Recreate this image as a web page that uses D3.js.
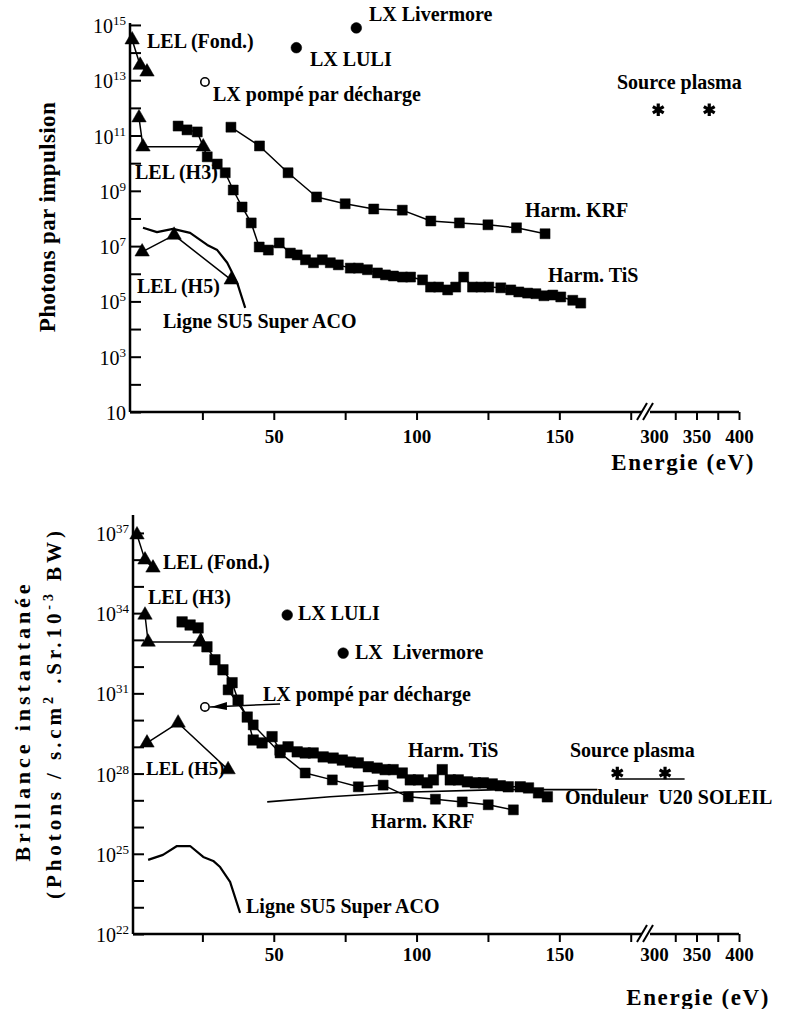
<!DOCTYPE html>
<html lang="fr">
<head>
<meta charset="UTF-8">
<title>Photons par impulsion / Brillance instantanée</title>
<script src="https://cdn.jsdelivr.net/npm/d3@7"></script>
<style>
  body { margin: 0; background: #fff; }
  svg { display: block; }
  text { white-space: pre; }
</style>
</head>
<body>
<svg id="chart" width="788" height="1009"></svg>
<script>
// ---- x axis (eV), with a break between 180 and 300 eV
var xTicks = [25, 50, 75, 100, 125, 150, 175, 300, 325, 350, 375, 400];
var xTickLabels = [50, 100, 150, 300, 350, 400];

// ---- top panel : photons par impulsion
var topLelFondE = [0.4, 3.2, 5.6];
var topLelFondV = [2.9e14, 3.5e13, 2.0e13];
var topLelH3E = [2.8, 4.2, 25.3];
var topLelH3V = [4.4e11, 3.9e10, 3.9e10];
var topLelH5E = [3.9, 15.1, 35.1];
var topLelH5V = [6.2e6, 2.5e7, 6.0e5];
var topSu5E = [4.2, 9.1, 14.7, 20.7, 26.7, 30.2, 33.7, 37.2, 40.0];
var topSu5V = [4.6e7, 3.2e7, 4.2e7, 3.0e7, 1.1e7, 7.2e6, 2.5e6, 4.7e5, 5.8e4];
var topKrfE = [35, 45, 55, 65, 75, 85, 95, 105, 115, 125, 135, 145];
var topKrfV = [2.0e11, 4.2e10, 4.5e9, 6.0e8, 3.4e8, 2.2e8, 2.0e8, 8.1e7, 6.9e7, 5.9e7, 4.6e7, 2.8e7];
var topTisE = [16.5, 19.6, 23.2, 26.7, 30.2, 33.0, 35.8, 38.9, 42.1, 44.9, 48.1, 51.9, 55.8, 58.2,
  61.1, 63.9, 67.0, 69.8, 72.6, 76.8, 79.6, 82.8, 86.3, 89.1, 91.9, 95.1, 97.9, 102.1, 104.9,
  107.7, 110.9, 113.7, 116.5, 119.6, 122.5, 125.3, 129.5, 133.0, 135.8, 138.9, 141.8, 144.6,
  147.7, 150.5, 154.7, 157.5];
var topTisV = [2.2e11, 1.6e11, 1.35e11, 1.7e10, 9.3e9, 4.5e9, 1.07e9, 2.6e8, 6.9e7, 9.3e6, 7.2e6,
  1.3e7, 5.6e6, 4.8e6, 3.2e6, 2.5e6, 3.2e6, 2.5e6, 2.1e6, 1.6e6, 1.6e6, 1.4e6, 1.07e6, 9.1e5,
  8.3e5, 7.6e5, 7.6e5, 6.0e5, 3.3e5, 3.3e5, 2.6e5, 3.3e5, 7.6e5, 3.3e5, 3.3e5, 3.3e5, 3.1e5,
  2.6e5, 2.2e5, 2.0e5, 1.9e5, 1.6e5, 1.7e5, 1.45e5, 1.1e5, 8.7e4];
var topLxPompe = [25.9, 8.7e12];
var topLxLuli = [57.9, 1.5e14];
var topLxLivermore = [78.9, 7.8e14];
var topPlasmaE = [305, 365];
var topPlasmaV = [8.5e11, 8.5e11];

// ---- bottom panel : brillance instantanée
var botLelFondE = [2.1, 4.9, 7.7];
var botLelFondV = [8.5e36, 9.8e35, 4.9e35];
var botLelH3E = [4.9, 6.0, 24.2];
var botLelH3V = [8.5e33, 8.3e32, 8.3e32];
var botLelH5E = [5.6, 16.5, 34.0];
var botLelH5V = [1.4e29, 7.8e29, 1.4e28];
var botSu5E = [6.0, 11.2, 16.1, 20.7, 25.3, 28.8, 31.2, 34.7, 38.2];
var botSu5V = [5.9e24, 9.1e24, 1.95e25, 1.95e25, 7.6e24, 5.4e24, 3.2e24, 8.9e23, 6.2e22];
var botKrfE = [34.0, 42.8, 52.2, 61.0, 70.5, 79.6, 88.3, 97.1, 106.6, 116.0, 125.1, 133.9];
var botKrfV = [1.35e31, 6.6e29, 5.9e28, 1.05e28, 5.8e27, 3.2e27, 3.7e27, 1.35e27, 1.1e27, 8.7e26, 6.8e26, 4.4e26];
var botTisE = [17.9, 20.7, 23.5, 26.6, 29.4, 32.2, 35.4, 37.5, 40.7, 42.8, 45.9, 49.4, 52.2, 55.0,
  58.2, 61.0, 63.8, 67.3, 70.8, 74.0, 76.8, 79.6, 83.1, 86.2, 89.0, 91.8, 95.0, 97.8, 100.6,
  103.7, 105.9, 109.0, 111.8, 114.6, 117.8, 120.6, 123.4, 126.5, 129.3, 132.1, 136.3, 139.2,
  142.7, 145.8];
var botTisV = [4.7e33, 3.6e33, 2.8e33, 5.5e32, 1.8e32, 7.6e31, 2.5e31, 5.6e30, 1.3e30, 1.8e29,
  1.4e29, 2.4e29, 7.6e28, 1.0e29, 6.5e28, 5.9e28, 5.9e28, 4.2e28, 3.8e28, 3.2e28, 2.7e28, 2.5e28,
  1.8e28, 1.6e28, 1.4e28, 1.4e28, 1.05e28, 5.8e27, 5.8e27, 4.5e27, 5.8e27, 1.4e28, 5.8e27, 5.8e27,
  4.9e27, 4.5e27, 4.5e27, 4.1e27, 3.5e27, 3.2e27, 3.2e27, 2.9e27, 1.9e27, 1.35e27];
var botOnduleurE = [47.7, 69.7, 95.3, 129.3, 163.3];
var botOnduleurV = [8.7e26, 1.35e27, 2.0e27, 2.5e27, 2.5e27];
var botOnduleur2E = [169.6, 336];
var botOnduleur2V = [6.3e27, 6.3e27];
var botLxPompeE = [25.9, 52.2];
var botLxPompeV = 3.1e30;
var botLxLuli = [54.7, 8.5e33];
var botLxLivermore = [74.3, 3.2e32];
var botPlasmaE = [170.3, 313];
var botPlasmaV = [1.05e28, 1.05e28];

var serif = '"Liberation Serif", "Times New Roman", serif';
var svg = d3.select('#chart');

var x = d3.scaleLinear()
  .domain([0, 180, 300, 400])
  .range([131, 645, 654, 739]);

var yTop = d3.scaleLog().domain([10, Math.pow(10, 15.07)]).range([412, 23]);
var yBot = d3.scaleLog().domain([1e22, Math.pow(10, 37.67)]).range([934, 515]);

function drawAxes(y, axisX, expMin, expMax, labelExps, labelY) {
  var y0 = y.range()[0];
  var yTopPx = y.range()[1];

  var xAxis = d3.axisBottom(x)
    .tickValues(xTicks)
    .tickSizeInner(8)
    .tickSizeOuter(0)
    .tickFormat(function(d) { return xTickLabels.indexOf(d) >= 0 ? d : ''; });
  var gx = svg.append('g').attr('transform', 'translate(0,' + y0 + ')').call(xAxis);
  gx.select('.domain').attr('d', 'M' + axisX + ',0H739').attr('stroke-width', 2.5);
  gx.selectAll('.tick line').attr('stroke-width', 2)
    .filter(function(d) { return d === 300; }).remove();
  gx.selectAll('.tick text')
    .attr('font-family', serif).attr('font-weight', 'bold').attr('font-size', 19)
    .attr('y', labelY).attr('dy', 0);

  // axis break
  var bx = 645;
  svg.append('rect').attr('x', bx - 3).attr('y', y0 - 3).attr('width', 8).attr('height', 6).attr('fill', '#fff');
  [-3, 3].forEach(function(o) {
    svg.append('line')
      .attr('x1', bx + o - 5).attr('y1', y0 + 8)
      .attr('x2', bx + o + 5).attr('y2', y0 - 9)
      .attr('stroke', '#000').attr('stroke-width', 2);
  });

  var decades = d3.range(expMin, expMax + 1).map(function(e) { return Math.pow(10, e); });
  var yAxis = d3.axisLeft(y)
    .tickValues(decades)
    .tickSizeInner(-11)
    .tickSizeOuter(0)
    .tickFormat('');
  var gy = svg.append('g').attr('transform', 'translate(' + axisX + ',0)').call(yAxis);
  gy.select('.domain').attr('d', 'M0,' + yTopPx + 'V' + y0).attr('stroke-width', 2.5);
  gy.selectAll('.tick line').attr('stroke-width', 2);

  labelExps.forEach(function(e) {
    var t = svg.append('text')
      .attr('x', axisX - 4)
      .attr('y', y(Math.pow(10, e)) + 8)
      .attr('text-anchor', 'end')
      .attr('font-family', serif)
      .attr('font-size', 20);
    t.append('tspan').text('10');
    if (e !== 1) t.append('tspan').attr('font-size', 13).attr('dy', -8).text(e);
  });
}

function line(y, E, V, w) {
  svg.append('path')
    .datum(d3.zip(E, V))
    .attr('fill', 'none')
    .attr('stroke', '#000')
    .attr('stroke-width', w || 1.5)
    .attr('stroke-linejoin', 'round')
    .attr('d', d3.line().x(function(d) { return x(d[0]); }).y(function(d) { return y(d[1]); }));
}

function marks(y, E, V, type, size, filled) {
  svg.append('g').selectAll('path')
    .data(d3.zip(E, V))
    .enter()
    .append('path')
    .attr('transform', function(d) { return 'translate(' + x(d[0]) + ',' + y(d[1]) + ')'; })
    .attr('d', d3.symbol(type, size))
    .attr('fill', filled === false ? '#fff' : '#000')
    .attr('stroke', '#000')
    .attr('stroke-width', filled === false ? 1.6 : 0.5);
}

function stars(y, E, V) {
  svg.append('g').selectAll('path')
    .data(d3.zip(E, V))
    .enter()
    .append('path')
    .attr('transform', function(d) { return 'translate(' + x(d[0]) + ',' + y(d[1]) + ')'; })
    .attr('d', d3.symbol(d3.symbolAsterisk, 110))
    .attr('fill', 'none')
    .attr('stroke', '#000')
    .attr('stroke-width', 3.2);
}

function label(txt, lx, ly, size, anchor) {
  return svg.append('text')
    .attr('x', lx).attr('y', ly)
    .attr('font-family', serif)
    .attr('font-weight', 'bold')
    .attr('font-size', size || 20)
    .attr('text-anchor', anchor || 'start')
    .text(txt);
}

// ================= top panel =================
drawAxes(yTop, 130, 1, 15, [1, 3, 5, 7, 9, 11, 13, 15], 31);

line(yTop, topSu5E, topSu5V, 2.2);
line(yTop, topLelFondE, topLelFondV);
line(yTop, topLelH3E, topLelH3V);
line(yTop, topLelH5E, topLelH5V);
line(yTop, topKrfE, topKrfV);
line(yTop, topTisE, topTisV);
marks(yTop, topKrfE, topKrfV, d3.symbolSquare, 100);
marks(yTop, topTisE, topTisV, d3.symbolSquare, 100);
marks(yTop, topLelFondE, topLelFondV, d3.symbolTriangle, 90);
marks(yTop, topLelH3E, topLelH3V, d3.symbolTriangle, 90);
marks(yTop, topLelH5E, topLelH5V, d3.symbolTriangle, 90);
marks(yTop, [topLxLuli[0], topLxLivermore[0]], [topLxLuli[1], topLxLivermore[1]], d3.symbolCircle, 90);
marks(yTop, [topLxPompe[0]], [topLxPompe[1]], d3.symbolCircle, 55, false);
stars(yTop, topPlasmaE, topPlasmaV);

label('LEL (Fond.)', 147, 48);
label('LX Livermore', 369, 21);
label('LX LULI', 310, 66);
label('LX pompé par décharge', 213, 101);
label('Source plasma', 617, 89);
label('LEL (H3)', 135, 179);
label('Harm. KRF', 525, 217);
label('Harm. TiS', 548, 282);
label('LEL (H5)', 137, 293);
label('Ligne SU5 Super ACO', 163, 328);
label('Energie (eV)', 755, 470, 23, 'end').attr('letter-spacing', 1.6);

svg.append('text')
  .attr('transform', 'translate(55,217) rotate(-90)')
  .attr('text-anchor', 'middle')
  .attr('font-family', serif).attr('font-weight', 'bold').attr('font-size', 23)
  .attr('letter-spacing', 0.4)
  .text('Photons par impulsion');

// ================= bottom panel =================
drawAxes(yBot, 133, 22, 37, [22, 25, 28, 31, 34, 37], 27);

line(yBot, botSu5E, botSu5V, 2.2);
line(yBot, botOnduleurE, botOnduleurV, 1.6);
line(yBot, botOnduleur2E, botOnduleur2V, 1.6);
line(yBot, botLelFondE, botLelFondV);
line(yBot, botLelH3E, botLelH3V);
line(yBot, botLelH5E, botLelH5V);
line(yBot, botKrfE, botKrfV);
line(yBot, botTisE, botTisV);
marks(yBot, botKrfE, botKrfV, d3.symbolSquare, 100);
marks(yBot, botTisE, botTisV, d3.symbolSquare, 110);
marks(yBot, botLelFondE, botLelFondV, d3.symbolTriangle, 90);
marks(yBot, botLelH3E, botLelH3V, d3.symbolTriangle, 90);
marks(yBot, botLelH5E, botLelH5V, d3.symbolTriangle, 90);
marks(yBot, [botLxLuli[0], botLxLivermore[0]], [botLxLuli[1], botLxLivermore[1]], d3.symbolCircle, 90);

// LX pompé par décharge : open circle with a left-pointing arrow line
var pY = yBot(botLxPompeV);
var p0 = x(botLxPompeE[0]);
svg.append('line')
  .attr('x1', p0 + 5).attr('y1', pY)
  .attr('x2', x(botLxPompeE[1])).attr('y2', pY - 3)
  .attr('stroke', '#000').attr('stroke-width', 1.5);
svg.append('path')
  .attr('d', 'M' + (p0 + 6) + ',' + pY + 'L' + (p0 + 22) + ',' + (pY - 5) + 'L' + (p0 + 22) + ',' + (pY + 3) + 'Z')
  .attr('fill', '#000');
marks(yBot, [botLxPompeE[0]], [botLxPompeV], d3.symbolCircle, 55, false);
stars(yBot, botPlasmaE, botPlasmaV);

label('LEL (Fond.)', 163, 569);
label('LEL (H3)', 148, 604);
label('LX LULI', 298, 620);
label('LX\u00a0\u00a0Livermore', 355, 659);
label('LX pompé par décharge', 263, 701);
label('Harm. TiS', 408, 757);
label('LEL (H5)', 146, 775, 19);
label('Source plasma', 570, 757);
label('Onduleur\u00a0\u00a0U20 SOLEIL', 565, 804);
label('Harm. KRF', 371, 828);
label('Ligne SU5 Super ACO', 246, 913);
label('Energie (eV)', 770, 1005, 23, 'end').attr('letter-spacing', 1.6);

svg.append('text')
  .attr('transform', 'translate(30,723) rotate(-90)')
  .attr('text-anchor', 'middle')
  .attr('font-family', serif).attr('font-weight', 'bold').attr('font-size', 22)
  .attr('textLength', 277).attr('lengthAdjust', 'spacing')
  .text('Brillance instantanée');

var t2 = svg.append('text')
  .attr('transform', 'translate(61,715) rotate(-90)')
  .attr('text-anchor', 'middle')
  .attr('font-family', serif).attr('font-weight', 'bold').attr('font-size', 21)
  .attr('textLength', 368).attr('lengthAdjust', 'spacing');
t2.append('tspan').text('(Photons / s.cm');
t2.append('tspan').attr('font-size', 14).attr('dy', -8).text('2');
t2.append('tspan').attr('dy', 8).text(' .Sr.10');
t2.append('tspan').attr('font-size', 14).attr('dy', -8).text('-3');
t2.append('tspan').attr('dy', 8).text(' BW)');
</script>
</body>
</html>
